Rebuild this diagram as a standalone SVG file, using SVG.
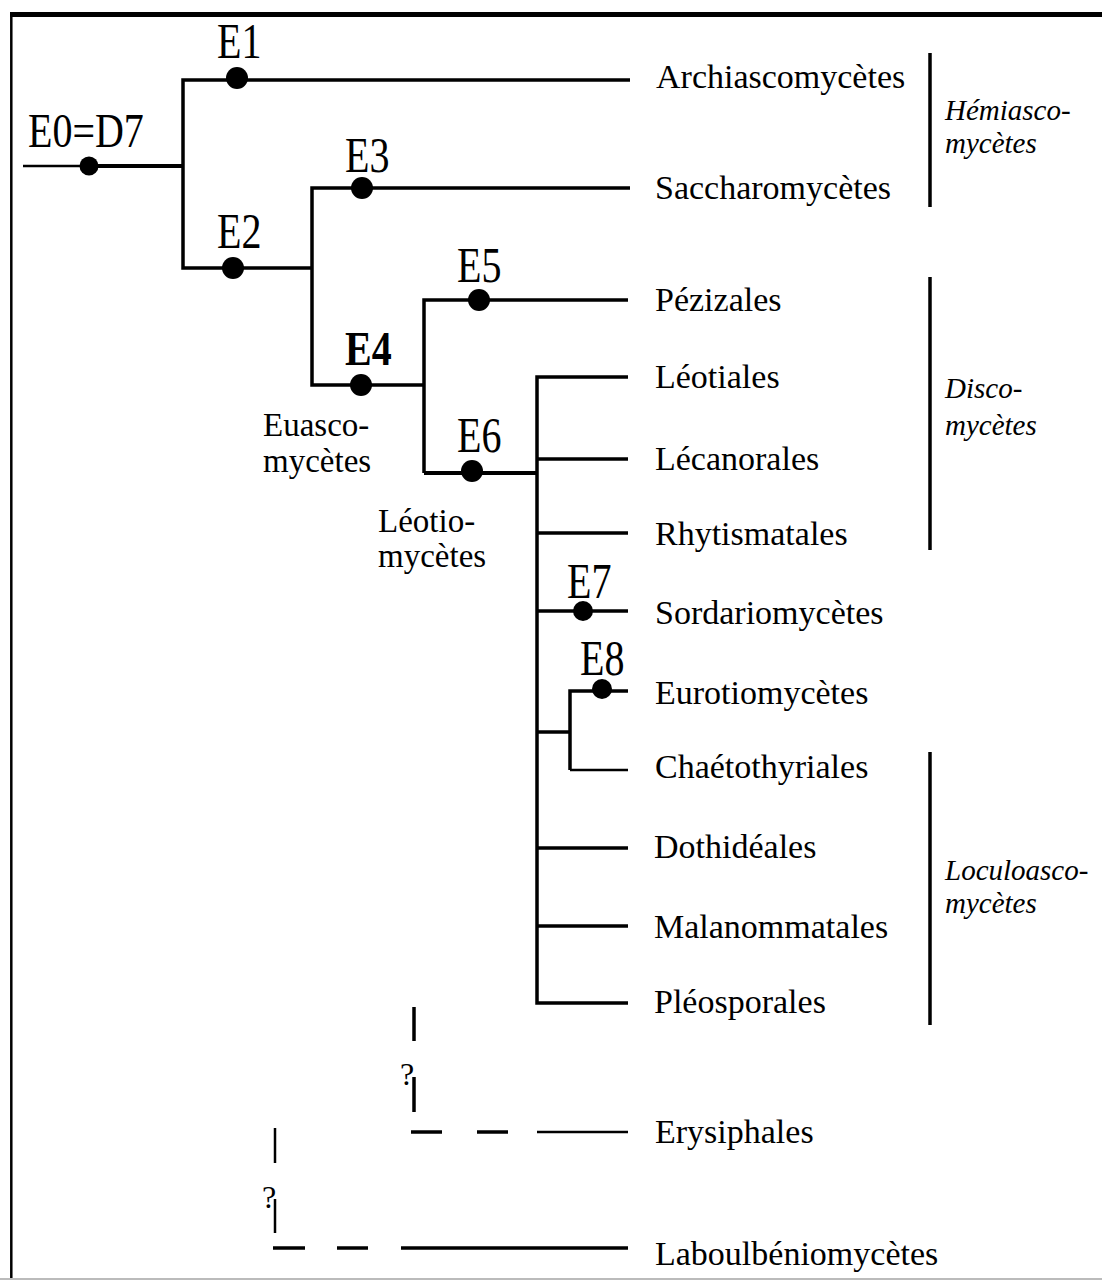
<svg xmlns="http://www.w3.org/2000/svg" width="1102" height="1280" viewBox="0 0 1102 1280">
<style>
.ln{stroke:#000;stroke-width:3.5;fill:none;stroke-linecap:butt}
.thk{stroke-width:4}
.thn{stroke-width:2.5}
.dot{fill:#000}
.e{font-family:"Liberation Serif","Times New Roman",serif;font-size:40px;fill:#000}
.leaf{font-family:"Liberation Serif","Times New Roman",serif;font-size:34px;fill:#000}
.cl{font-family:"Liberation Serif","Times New Roman",serif;font-size:33px;fill:#000}
.grp{font-family:"Liberation Serif","Times New Roman",serif;font-size:29px;font-style:italic;fill:#000}
.q{font-family:"Liberation Serif","Times New Roman",serif;font-size:32px;fill:#000}
</style>
<rect width="1102" height="1280" fill="#fff"/>
<g id="frame">
<line x1="10" y1="14.5" x2="1102" y2="14.5" stroke="#000" stroke-width="5"/>
<line x1="11.3" y1="12" x2="11.3" y2="1280" stroke="#000" stroke-width="2.5"/>
<line x1="0" y1="1279" x2="1102" y2="1279" stroke="#bbb" stroke-width="2"/>
</g>
<g id="connectors">
<line class="ln thn" x1="23" y1="166" x2="82" y2="166"/>
<line class="ln thk" x1="82" y1="166" x2="183" y2="166"/>
<polyline class="ln" points="630,80 183,80 183,268 312,268"/>
<polyline class="ln" points="630,188 312,188 312,385 424,385"/>
<polyline class="ln" points="628,300 424,300 424,473"/>
<line class="ln thk" x1="424" y1="473" x2="538" y2="473"/>
<polyline class="ln" points="628,377 537,377 537,1003 628,1003"/>
<line class="ln" x1="537" y1="459" x2="628" y2="459"/>
<line class="ln" x1="537" y1="533" x2="628" y2="533"/>
<line class="ln" x1="537" y1="611" x2="628" y2="611"/>
<line class="ln" x1="537" y1="732" x2="570" y2="732"/>
<polyline class="ln" points="628,691 570,691 570,770"/>
<line class="ln thn" x1="570" y1="770" x2="628" y2="770"/>
<line class="ln" x1="537" y1="848" x2="628" y2="848"/>
<line class="ln" x1="537" y1="926" x2="628" y2="926"/>
<line class="ln" x1="414" y1="1007" x2="414" y2="1041"/>
<line class="ln" x1="414" y1="1077" x2="414" y2="1112"/>
<line class="ln" x1="411" y1="1132" x2="442" y2="1132"/>
<line class="ln" x1="477" y1="1132" x2="508" y2="1132"/>
<line class="ln thn" x1="537" y1="1132" x2="628" y2="1132"/>
<line class="ln thn" x1="275" y1="1128" x2="275" y2="1163"/>
<line class="ln thn" x1="275" y1="1199" x2="275" y2="1233"/>
<line class="ln" x1="273" y1="1248" x2="305" y2="1248"/>
<line class="ln" x1="337" y1="1248" x2="368" y2="1248"/>
<line class="ln" x1="401" y1="1248" x2="628" y2="1248"/>
<line class="ln" x1="930" y1="53" x2="930" y2="207"/>
<line class="ln" x1="930" y1="277" x2="930" y2="550"/>
<line class="ln" x1="930" y1="752" x2="930" y2="1025"/>
</g>
<g id="E0"><circle class="dot" cx="89" cy="166" r="9.5"/><text class="e" transform="translate(28,147) scale(1,1.22)">E0=D7</text></g>
<g id="E1"><circle class="dot" cx="237" cy="78" r="11"/><text class="e" transform="translate(217,58) scale(1,1.25)">E1</text></g>
<g id="E2"><circle class="dot" cx="233" cy="268" r="11"/><text class="e" transform="translate(217,248) scale(1,1.25)">E2</text></g>
<g id="E3"><circle class="dot" cx="362" cy="188" r="11"/><text class="e" transform="translate(345,172) scale(1,1.25)">E3</text></g>
<g id="E4"><circle class="dot" cx="361" cy="385" r="11"/><text class="e" font-weight="bold" transform="translate(345,365) scale(1,1.2)">E4</text></g>
<g id="E5"><circle class="dot" cx="479" cy="300" r="11"/><text class="e" transform="translate(457,282) scale(1,1.25)">E5</text></g>
<g id="E6"><circle class="dot" cx="472" cy="471" r="11"/><text class="e" transform="translate(457,452) scale(1,1.25)">E6</text></g>
<g id="E7"><circle class="dot" cx="583" cy="611" r="10"/><text class="e" transform="translate(567,598) scale(1,1.25)">E7</text></g>
<g id="E8"><circle class="dot" cx="602" cy="689" r="10"/><text class="e" transform="translate(580,675) scale(1,1.25)">E8</text></g>
<g id="clades">
<text class="cl" x="263" y="436">Euasco-</text>
<text class="cl" x="263" y="472">mycètes</text>
<text class="cl" x="378" y="532">Léotio-</text>
<text class="cl" x="378" y="567">mycètes</text>
</g>
<g id="leaves">
<text class="leaf" x="656" y="88">Archiascomycètes</text>
<text class="leaf" x="655" y="199">Saccharomycètes</text>
<text class="leaf" x="655" y="311">Pézizales</text>
<text class="leaf" x="655" y="388">Léotiales</text>
<text class="leaf" x="655" y="470">Lécanorales</text>
<text class="leaf" x="655" y="545">Rhytismatales</text>
<text class="leaf" x="655" y="624">Sordariomycètes</text>
<text class="leaf" x="655" y="704">Eurotiomycètes</text>
<text class="leaf" x="655" y="778">Chaétothyriales</text>
<text class="leaf" x="654" y="858">Dothidéales</text>
<text class="leaf" x="654" y="938">Malanommatales</text>
<text class="leaf" x="654" y="1013">Pléosporales</text>
<text class="leaf" x="655" y="1143">Erysiphales</text>
<text class="leaf" x="655" y="1265">Laboulbéniomycètes</text>
</g>
<g id="groups">
<text class="grp" x="945" y="120">Hémiasco-</text>
<text class="grp" x="945" y="153">mycètes</text>
<text class="grp" x="945" y="398">Disco-</text>
<text class="grp" x="945" y="435">mycètes</text>
<text class="grp" x="945" y="880">Loculoasco-</text>
<text class="grp" x="945" y="913">mycètes</text>
</g>
<g id="uncertain">
<text class="q" x="400" y="1085">?</text>
<text class="q" x="262" y="1208">?</text>
</g>
</svg>
